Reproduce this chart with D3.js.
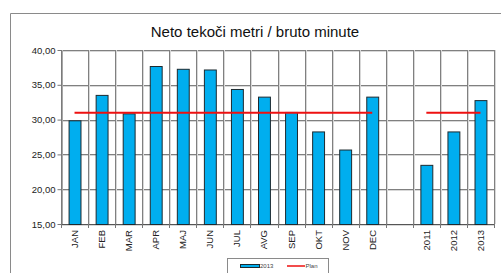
<!DOCTYPE html>
<html>
<head>
<meta charset="utf-8">
<script src="https://cdn.jsdelivr.net/npm/d3@7"></script>
<style>
  body { margin: 0; background: #fff; }
  svg { display: block; font-family: "Liberation Sans", Arial, sans-serif; }
</style>
</head>
<body>
<svg id="chart" width="501" height="273"></svg>
<script>
const categories = ["JAN","FEB","MAR","APR","MAJ","JUN","JUL","AVG","SEP","OKT","NOV","DEC","","2011","2012","2013"]
const values2013 = [29.9, 33.55, 30.9, 37.7, 37.3, 37.2, 34.4, 33.3, 31.1, 28.3, 25.7, 33.3, null, 23.5, 28.3, 32.8]
const planValues = [31, 31, 31, 31, 31, 31, 31, 31, 31, 31, 31, 31, null, 31, 31, 31]
const yTicks = [15, 20, 25, 30, 35, 40]
const seriesNames = ["2013", "Plan"]

const svg = d3.select('#chart')
const plotLeft = 61, plotRight = 494, plotTop = 50, plotBottom = 224

const x = d3.scaleBand()
    .domain(categories.map((c, i) => i))
    .range([plotLeft, plotRight])
    .paddingInner(0.56)
    .paddingOuter(0.28)
const step = x.step()
const x0 = x(0) - step * 0.28

const y = d3.scaleLinear().domain([15, 40]).range([plotBottom, plotTop])
const fmt = d => d.toFixed(2).replace('.', ',')

// outer frame
svg.append('path')
    .attr('d', 'M10.5,273 V13.5 H501')
    .attr('fill', 'none')
    .attr('stroke', '#8a8a8a')

svg.append('text')
    .attr('x', 255).attr('y', 36.5)
    .attr('text-anchor', 'middle')
    .attr('font-size', 15)
    .attr('fill', '#111')
    .text('Neto tekoči metri / bruto minute')

// gridlines (dark line + light shadow like the original)
const grid = svg.append('g')
yTicks.forEach(t => {
    grid.append('line')
        .attr('x1', plotLeft).attr('x2', plotRight)
        .attr('y1', Math.round(y(t)) + 0.5).attr('y2', Math.round(y(t)) + 0.5)
        .attr('stroke', '#808080')
    grid.append('line')
        .attr('x1', plotLeft).attr('x2', plotRight)
        .attr('y1', Math.round(y(t)) + 1.5).attr('y2', Math.round(y(t)) + 1.5)
        .attr('stroke', '#d8d8d8')
})
d3.range(categories.length + 1).forEach(i => {
    const gx = Math.round(x0 + i * step)
    grid.append('line')
        .attr('x1', gx + 0.5).attr('x2', gx + 0.5)
        .attr('y1', plotTop).attr('y2', plotBottom)
        .attr('stroke', '#808080')
    grid.append('line')
        .attr('x1', gx + 1.5).attr('x2', gx + 1.5)
        .attr('y1', plotTop).attr('y2', plotBottom)
        .attr('stroke', '#d8d8d8')
})

// y axis
const yAxis = svg.append('g')
    .attr('transform', `translate(${plotLeft + 0.5},0)`)
    .call(d3.axisLeft(y).tickValues(yTicks).tickFormat(fmt).tickSize(4).tickSizeOuter(0))
yAxis.select('.domain').attr('stroke', '#777')
yAxis.selectAll('.tick line').attr('stroke', '#777')
yAxis.selectAll('.tick text')
    .attr('font-size', 9.5)
    .attr('font-family', '"Liberation Sans", Arial, sans-serif')
    .attr('fill', '#222')
    .attr('x', -6)

// x axis baseline + ticks
const xAxis = svg.append('g')
xAxis.append('line')
    .attr('x1', plotLeft).attr('x2', plotRight)
    .attr('y1', plotBottom + 0.5).attr('y2', plotBottom + 0.5)
    .attr('stroke', '#555')
d3.range(categories.length + 1).forEach(i => {
    const gx = Math.round(x0 + i * step) + 0.5
    xAxis.append('line')
        .attr('x1', gx).attr('x2', gx)
        .attr('y1', plotBottom).attr('y2', plotBottom + 4)
        .attr('stroke', '#777')
})
xAxis.selectAll('text.xl')
    .data(categories)
    .enter()
    .append('text')
    .attr('class', 'xl')
    .attr('transform', (d, i) => `translate(${x(i) + x.bandwidth() / 2 + 3.5},${plotBottom + 6}) rotate(-90)`)
    .attr('text-anchor', 'end')
    .attr('font-size', 9.5)
    .attr('fill', '#222')
    .text(d => d)

// bars
svg.append('g').selectAll('rect')
    .data(values2013.map((v, i) => ({v, i})).filter(d => d.v != null))
    .enter()
    .append('rect')
    .attr('x', d => x(d.i) + 0.5)
    .attr('y', d => y(d.v) + 0.5)
    .attr('width', x.bandwidth())
    .attr('height', d => plotBottom - y(d.v))
    .attr('fill', '#00aeef')
    .attr('stroke', '#1d2a30')
    .attr('stroke-width', 1)

// plan line
const line = d3.line()
    .defined(d => d.v != null)
    .x(d => x(d.i) + x.bandwidth() / 2)
    .y(d => y(d.v))
svg.append('path')
    .datum(planValues.map((v, i) => ({v, i})))
    .attr('d', line)
    .attr('fill', 'none')
    .attr('stroke', '#ee1111')
    .attr('stroke-width', 2)

// legend
const lg = svg.append('g')
lg.append('rect')
    .attr('x', 227.5).attr('y', 258.5)
    .attr('width', 101).attr('height', 20)
    .attr('fill', '#fff')
    .attr('stroke', '#8a8a8a')
lg.append('rect')
    .attr('x', 240.5).attr('y', 264.5)
    .attr('width', 19).attr('height', 3)
    .attr('fill', '#00aeef')
    .attr('stroke', '#1d2a30')
lg.append('text')
    .attr('x', 260).attr('y', 268)
    .attr('font-size', 6).attr('fill', '#444')
    .text(seriesNames[0])
lg.append('line')
    .attr('x1', 287).attr('x2', 305)
    .attr('y1', 266).attr('y2', 266)
    .attr('stroke', '#ee1111').attr('stroke-width', 1.5)
lg.append('text')
    .attr('x', 305.5).attr('y', 268)
    .attr('font-size', 6).attr('fill', '#444')
    .text(seriesNames[1])
</script>
</body>
</html>
